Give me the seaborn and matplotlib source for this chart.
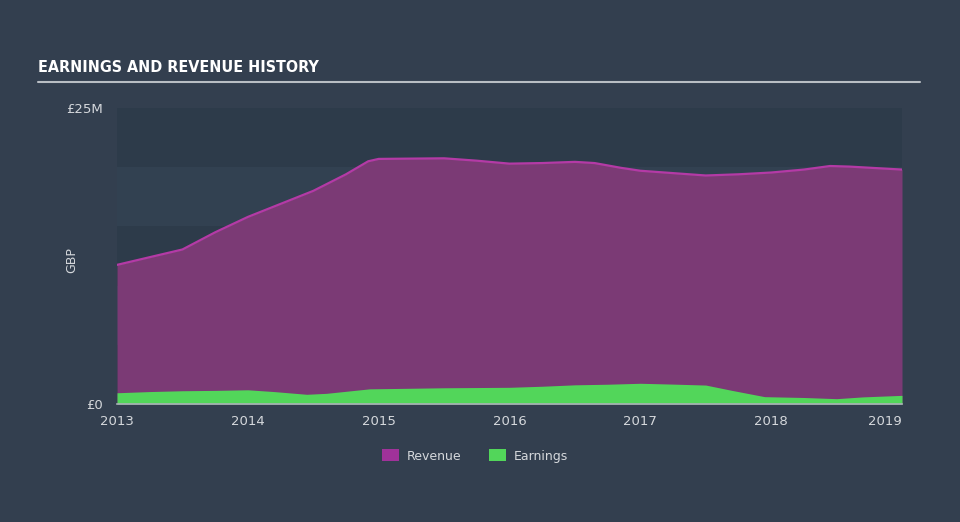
import matplotlib
matplotlib.use("Agg")
import matplotlib.pyplot as plt
import seaborn as sns
import pandas as pd
from matplotlib.patches import Patch

# ---- data (GBP millions) ----
rev_t = [2013.0, 2013.25, 2013.5, 2013.75, 2014.0, 2014.25, 2014.5, 2014.75, 2014.92,
         2015.0, 2015.5, 2015.75, 2016.0, 2016.25, 2016.5, 2016.65, 2016.85, 2017.0,
         2017.25, 2017.5, 2017.75, 2018.0, 2018.25, 2018.45, 2018.6, 2019.0]
rev_v = [11.75, 12.4, 13.05, 14.5, 15.8, 16.9, 18.0, 19.4, 20.5,
         20.7, 20.75, 20.55, 20.3, 20.35, 20.45, 20.35, 19.95, 19.7,
         19.5, 19.3, 19.4, 19.55, 19.8, 20.1, 20.05, 19.8]
earn_t = [2013.0, 2013.25, 2013.5, 2013.75, 2014.0, 2014.2, 2014.45, 2014.6, 2014.93,
          2015.25, 2015.5, 2016.0, 2016.25, 2016.5, 2016.75, 2017.0, 2017.25, 2017.5,
          2017.7, 2017.95, 2018.25, 2018.5, 2018.7, 2019.0]
earn_v = [0.95, 1.05, 1.12, 1.15, 1.2, 1.05, 0.82, 0.9, 1.28,
          1.33, 1.37, 1.41, 1.5, 1.62, 1.67, 1.75, 1.68, 1.6,
          1.15, 0.62, 0.55, 0.45, 0.6, 0.73]
years = [2013, 2014, 2015, 2016, 2017, 2018, 2019]
ytick_vals = [0, 25]
ytick_labels = ["£0", "£25M"]
title = "EARNINGS AND REVENUE HISTORY"

BG = "#333f4f"
BAND_DARK = "#2d3b4a"
BAND_LIGHT = "#324151"
REV_FILL = "#7b3a75"
REV_LINE = "#b43aa6"
EARN = "#52d65a"
TXT = "#d5d8dc"

sns.set_style("dark")
plt.rcParams["font.family"] = ["DejaVu Sans"]

fig = plt.figure(figsize=(9.6, 5.22), dpi=100, facecolor=BG)
ax = fig.add_axes([117/960, (522-404)/522, (902-117)/960, (404-108)/522])
ax.set_facecolor(BG)

# background bands
for i, lo in enumerate(range(0, 25, 5)):
    ax.axhspan(lo, lo + 5, color=BAND_DARK if i % 2 == 0 else BAND_LIGHT, lw=0, zorder=0)

rev = pd.DataFrame({"t": rev_t, "v": rev_v})
earn = pd.DataFrame({"t": earn_t, "v": earn_v})

ax.fill_between(rev["t"], 0, rev["v"], color=REV_FILL, lw=0, zorder=2)
sns.lineplot(data=rev, x="t", y="v", ax=ax, color=REV_LINE, lw=1.6, zorder=3)
ax.fill_between(earn["t"], 0, earn["v"], color=EARN, lw=0, zorder=4)

ax.set_xlim(2013, 2019)
ax.set_ylim(0, 25)
ax.grid(False)
for s in ["top", "right", "left"]:
    ax.spines[s].set_visible(False)
ax.spines["bottom"].set_color("#aab0b8")
ax.spines["bottom"].set_linewidth(1.2)
ax.spines["bottom"].set_zorder(5)

ax.set_xticks(years)
ax.set_xticklabels([str(y) for y in years])
ax.tick_params(axis="x", colors="#aab0b8", length=6, width=1, direction="out",
               labelcolor=TXT, labelsize=9.5, pad=2)
lbls = ax.get_xticklabels()
lbls[-1].set_ha("right")
ax.set_yticks(ytick_vals)
ax.set_yticklabels(ytick_labels)
ax.tick_params(axis="y", length=0, labelcolor=TXT, labelsize=9.5, pad=10)
ax.set_xlabel("")
ax.set_ylabel("")
fig.text(72/960, 1 - 260/522, "GBP", color=TXT, fontsize=9, rotation=90,
         ha="center", va="center")

# title and rule
fig.text(38/960, 1 - 68/522, title, color="white", fontsize=11.5, fontweight="bold",
         fontstretch="condensed", family=["DejaVu Sans"], va="center", ha="left")
fig.add_artist(plt.Line2D([38/960, 920/960], [1 - 82/522, 1 - 82/522],
                          color="#b9bec4", lw=1.5))

handles = [Patch(facecolor="#a0329a", edgecolor="none", label="Revenue"),
           Patch(facecolor=EARN, edgecolor="none", label="Earnings")]
leg = fig.legend(handles=handles, loc="center", bbox_to_anchor=(475/960, 1 - 456/522),
                 ncol=2, frameon=False, fontsize=9, labelcolor=TXT,
                 handlelength=1.4, handleheight=1.1, columnspacing=2.2, handletextpad=0.6)

fig.savefig("out.png", dpi=100, facecolor=BG)
